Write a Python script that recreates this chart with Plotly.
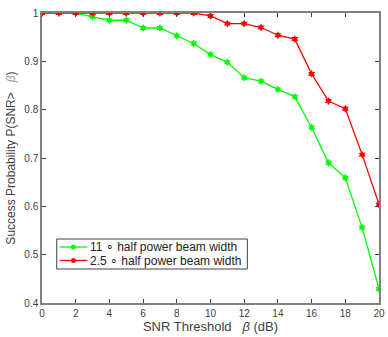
import plotly.graph_objects as go

snr_db = list(range(0, 21))
p_11deg = [1, 1, 1, 0.992, 0.985, 0.985, 0.969, 0.969, 0.953, 0.937,
           0.914, 0.898, 0.866, 0.859, 0.842, 0.827, 0.763, 0.690, 0.659, 0.556, 0.429]
p_2p5deg = [1, 1, 1, 1, 1, 1, 1, 1, 1, 1,
            0.994, 0.978, 0.978, 0.970, 0.954, 0.946, 0.874, 0.818, 0.802, 0.707, 0.604]
series_names = ["11 \u2218 half power beam width", "2.5 \u2218 half power beam width"]
series_colors = ["#00ff00", "#ff0000"]
y_ticks = [0.4, 0.5, 0.6, 0.7, 0.8, 0.9, 1.0]
y_ticklabels = ["0.4", "0.5", "0.6", "0.7", "0.8", "0.9", "1"]
x_ticks = list(range(0, 21, 2))

W, H = 388, 337
ML, MR, MT, MB = 42, 3, 13, 34
PW, PH = W - ML - MR, H - MT - MB


def px_x(p):
    return (p - ML) / PW


def px_y(p):
    return (H - MB - p) / PH


fig = go.Figure()
for yv, nm, col in zip([p_11deg, p_2p5deg], series_names, series_colors):
    fig.add_trace(go.Scatter(
        x=snr_db, y=yv, mode="lines+markers", name=nm, showlegend=False,
        line=dict(color=col, width=1.3),
        marker=dict(symbol="hexagram", size=6, color=col),
    ))

# manual legend (MATLAB-style compact box)
shapes = [dict(type="rect", xref="paper", yref="paper",
               x0=px_x(57), x1=px_x(251), y0=px_y(269), y1=px_y(239),
               line=dict(color="#404040", width=1), fillcolor="white", layer="above")]
annotations = []
for i, (nm, col) in enumerate(zip(series_names, series_colors)):
    yy = 247 + i * 13.5
    shapes.append(dict(type="line", xref="paper", yref="paper",
                       x0=px_x(60), x1=px_x(88), y0=px_y(yy), y1=px_y(yy),
                       line=dict(color=col, width=1.3), layer="above"))
    shapes.append(dict(type="circle", xref="paper", yref="paper",
                       x0=px_x(71.5), x1=px_x(76.5), y0=px_y(yy + 2.5), y1=px_y(yy - 2.5),
                       line=dict(color=col, width=0), fillcolor=col, layer="above"))
    annotations.append(dict(xref="paper", yref="paper", x=px_x(89), y=px_y(yy),
                            xanchor="left", yanchor="middle", showarrow=False, text=nm,
                            font=dict(family="Liberation Sans, Arial", size=12, color="#222222")))

axis_common = dict(
    showgrid=False, zeroline=False, showline=True, linecolor="#808080",
    linewidth=1.5, mirror="ticks", ticks="inside", ticklen=4, tickcolor="#404040",
    tickfont=dict(family="Liberation Sans, Arial", size=10, color="#404040"),
    ticklabeloverflow="allow",
)

fig.update_layout(
    width=W, height=H,
    margin=dict(l=ML, r=MR, t=MT, b=MB),
    paper_bgcolor="white", plot_bgcolor="white",
    showlegend=False,
    shapes=shapes, annotations=annotations,
    xaxis=dict(
        range=[0, 20], tickvals=x_ticks,
        title=dict(text="SNR Threshold   <i>\u03b2</i> (dB)", standoff=4,
                   font=dict(family="Liberation Sans, Arial", size=13, color="#404040")),
        **axis_common,
    ),
    yaxis=dict(
        range=[0.4, 1.0], tickvals=y_ticks, ticktext=y_ticklabels,
        title=dict(text="Success Probability P(SNR>   <i><span style='color:#999999'>\u03b2</span></i>)",
                   standoff=6,
                   font=dict(family="Liberation Sans, Arial", size=12, color="#404040")),
        **axis_common,
    ),
)

fig.write_html("out.html")
